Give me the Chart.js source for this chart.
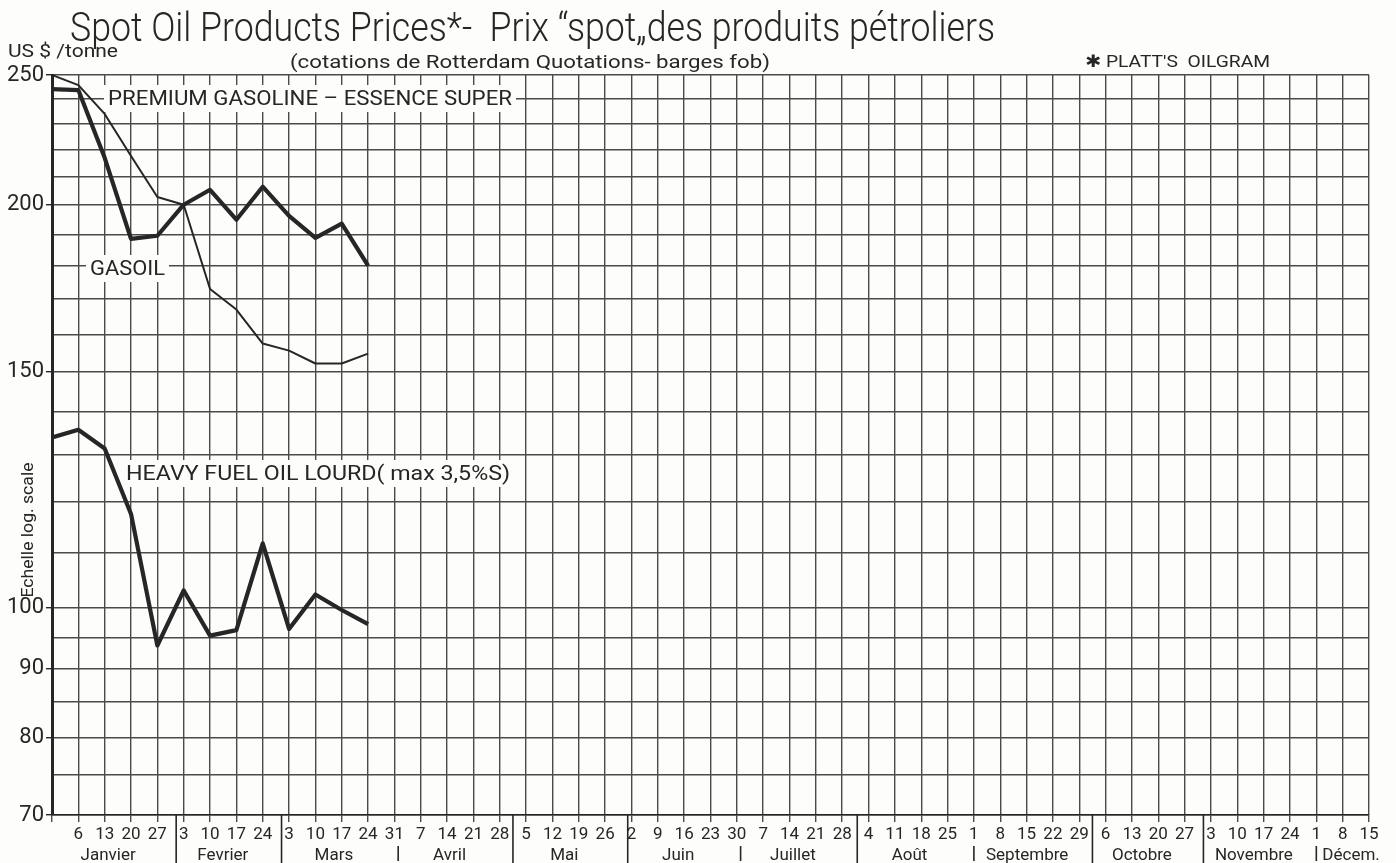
<!DOCTYPE html>
<html>
<head>
<meta charset="utf-8">
<script src="https://cdn.jsdelivr.net/npm/chart.js@4"></script>
<style>
  html, body { margin: 0; padding: 0; background: #fdfdfb; }
  canvas { display: block; }
</style>
</head>
<body>
<canvas id="c" width="1396" height="863"></canvas>
<script>
// ---------- DATA ----------
const quoteDates = ['1985-12-30','1986-01-06','1986-01-13','1986-01-20','1986-01-27','1986-02-03','1986-02-10','1986-02-17','1986-02-24','1986-03-03','1986-03-10','1986-03-17','1986-03-24'];
const premiumGasoline = [250, 245.7, 233.8, 217.5, 202.7, 200, 173, 167, 157.5, 155.6, 152.2, 152.2, 154.8];
const gasoil          = [244, 243.6, 216.8, 188.6, 189.6, 200, 205.2, 194.9, 206.3, 196.2, 188.9, 193.6, 180.1];
const heavyFuelOil    = [134, 135.8, 131.5, 117.5, 93.7, 103, 95.3, 96.2, 111.7, 96.4, 102.3, 99.6, 97.2];

const weekDays = ['6','13','20','27','3','10','17','24','3','10','17','24','31','7','14','21','28','5','12','19','26','2','9','16','23','30','7','14','21','28','4','11','18','25','1','8','15','22','29','6','13','20','27','3','10','17','24','1','8','15'];
const monthNames = ['Janvier','Fevrier','Mars','Avril','Mai','Juin','Juillet','Août','Septembre','Octobre','Novembre','Décem.'];
const yGridValues = [70,75,80,85,90,95,100,110,120,130,140,150,160,170,180,190,200,210,220,230,240,250];
const yLabelValues = [70,80,90,100,150,200,250];

// ---------- helpers ----------
const ORIGIN = Date.UTC(1986, 0, 6);
function weekIndex(iso) {
  const [y, m, d] = iso.split('-').map(Number);
  return (Date.UTC(y, m - 1, d) - ORIGIN) / 86400000 / 7;
}
const qx = quoteDates.map(weekIndex);
const pts = arr => arr.map((v, i) => ({ x: qx[i], y: v }));
const INK = '#262626';
const GRID = '#4a4a4a';
const FONT = "Roboto, 'DejaVu Sans', sans-serif";

function drawFit(ctx, text, x, y, w, size, align, weight) {
  ctx.font = (weight || 'normal') + ' ' + size + 'px ' + FONT;
  const m = ctx.measureText(text).width;
  ctx.save();
  ctx.translate(x, y);
  ctx.scale(w / m, 1);
  ctx.textAlign = 'left';
  ctx.textBaseline = 'alphabetic';
  ctx.fillText(text, align === 'center' ? -m / 2 : 0, 0);
  ctx.restore();
}

const annot = {
  id: 'annot',
  beforeDraw(chart) {
    const ctx = chart.ctx;
    ctx.save();
    ctx.fillStyle = '#fdfdfb';
    ctx.fillRect(0, 0, chart.width, chart.height);
    ctx.restore();
  },
  beforeDatasetsDraw(chart) {
    const ctx = chart.ctx;
    ctx.save();
    const boxes = [
      { t: 'PREMIUM GASOLINE – ESSENCE SUPER', x: 108, y: 105, w: 404, s: 21 },
      { t: 'GASOIL', x: 90, y: 275, w: 75, s: 21 },
      { t: 'HEAVY FUEL OIL LOURD( max 3,5%S)', x: 126, y: 480, w: 384, s: 21 }
    ];
    boxes.forEach(b => {
      ctx.fillStyle = '#fdfdfb';
      ctx.fillRect(b.x - 4, b.y - 20, b.w + 8, 27);
      ctx.fillStyle = INK;
      drawFit(ctx, b.t, b.x, b.y, b.w, b.s, 'left');
    });
    ctx.restore();
  },
  afterDraw(chart) {
    const ctx = chart.ctx;
    const xs = chart.scales.x;
    const area = chart.chartArea;
    ctx.save();
    ctx.fillStyle = INK;
    // titles
    drawFit(ctx, 'Spot Oil Products Prices*-  Prix “spot„des produits pétroliers', 70, 41, 925, 40, 'left', '300');
    drawFit(ctx, '(cotations de Rotterdam Quotations- barges fob)', 290, 68, 480, 18, 'left');
    drawFit(ctx, 'US $ /tonne', 8, 57, 110, 18, 'left');
    drawFit(ctx, '✱ PLATT\'S  OILGRAM', 1085, 67, 185, 17, 'left');
    // rotated axis note
    ctx.save();
    ctx.translate(33, 530);
    ctx.rotate(-Math.PI / 2);
    drawFit(ctx, 'Echelle log. scale', 0, 0, 135, 16, 'center');
    ctx.restore();

    // month separators and labels
    const bounds = [];
    for (let m = 1; m < 12; m++) {
      const b = (Date.UTC(1986, m, 1) - ORIGIN) / 86400000 / 7;
      const prev = Math.floor(b + 1e-9);
      const frac = b - prev;
      let type = 'tall', pos = b;
      if (frac < 0.16) { type = 'short'; }
      else if (frac < 0.45) { pos = prev + 0.5; }
      bounds.push({ pos, type });
    }
    ctx.strokeStyle = INK;
    ctx.lineWidth = 1.6;
    bounds.forEach(b => {
      const px = xs.getPixelForValue(b.pos);
      ctx.beginPath();
      if (b.type === 'tall') { ctx.moveTo(px, area.bottom); ctx.lineTo(px, 863); }
      else { ctx.moveTo(px, 846); ctx.lineTo(px, 861); }
      ctx.stroke();
    });
    const edges = [xs.getPixelForValue(-1)].concat(bounds.map(b => xs.getPixelForValue(b.pos))).concat([area.right]);
    ctx.font = '17px ' + FONT;
    ctx.textBaseline = 'alphabetic';
    monthNames.forEach((name, i) => {
      if (i === 11) {
        ctx.textAlign = 'left';
        ctx.fillText(name, edges[i] + 6, 860);
      } else {
        ctx.textAlign = 'center';
        ctx.fillText(name, (edges[i] + edges[i + 1]) / 2 - 6, 860);
      }
    });
    ctx.restore();
  }
};

new Chart(document.getElementById('c'), {
  type: 'line',
  data: {
    datasets: [
      { label: 'Premium gasoline', data: pts(premiumGasoline), borderColor: INK, borderWidth: 2, pointRadius: 0, tension: 0, fill: false, borderJoinStyle: 'round' },
      { label: 'Gasoil', data: pts(gasoil), borderColor: INK, borderWidth: 4.2, pointRadius: 0, tension: 0, fill: false, borderJoinStyle: 'round' },
      { label: 'Heavy fuel oil', data: pts(heavyFuelOil), borderColor: INK, borderWidth: 4.2, pointRadius: 0, tension: 0, fill: false, borderJoinStyle: 'round' }
    ]
  },
  options: {
    responsive: false,
    animation: false,
    devicePixelRatio: 1,
    layout: { padding: { top: 75, right: 27, left: 0, bottom: 0 } },
    plugins: { legend: { display: false }, tooltip: { enabled: false }, title: { display: false } },
    scales: {
      x: {
        type: 'linear',
        min: -1,
        max: 49,
        afterBuildTicks: s => { const t = []; for (let v = -1; v <= 49; v++) t.push({ value: v }); s.ticks = t; },
        afterFit: s => { s.height = 48; },
        ticks: {
          autoSkip: false, maxRotation: 0, minRotation: 0, padding: 3,
          color: INK, font: { family: FONT, size: 17 },
          callback: v => (v >= 0 && v < weekDays.length) ? weekDays[v] : ''
        },
        grid: { color: GRID, lineWidth: 1.4, drawTicks: true, tickLength: 7, tickColor: GRID },
        border: { display: true, color: INK, width: 1.6 }
      },
      y: {
        type: 'logarithmic',
        min: 70,
        max: 250,
        afterBuildTicks: s => { s.ticks = yGridValues.map(v => ({ value: v })); },
        afterFit: s => { s.width = 52; },
        ticks: {
          autoSkip: false, padding: 2, color: INK, font: { family: FONT, size: 22 },
          callback: v => yLabelValues.includes(v) ? String(v) : ''
        },
        grid: {
          color: GRID, lineWidth: 1.4, drawTicks: true, tickLength: 6,
          tickColor: c => (c.tick && yLabelValues.includes(c.tick.value)) ? INK : 'rgba(0,0,0,0)'
        },
        border: { display: true, color: INK, width: 3 }
      }
    }
  },
  plugins: [annot]
});
</script>
</body>
</html>
